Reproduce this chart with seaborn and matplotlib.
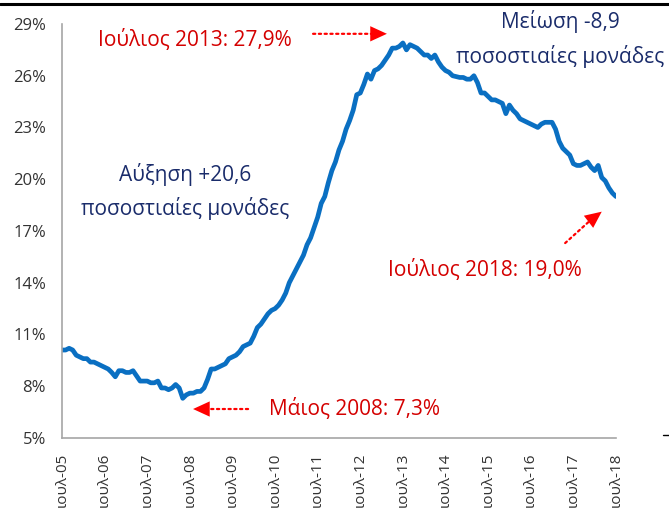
import numpy as np
import pandas as pd
import matplotlib.pyplot as plt
import seaborn as sns
from matplotlib.lines import Line2D

# ==========================================
# Datos: tasa de desempleo mensual, jul-2005 .. jul-2018
# ==========================================
anios = [f"{a:02d}" for a in range(5, 19)]
etiquetas_x = [f"ιουλ-{a}" for a in anios]

desempleo = [
    # jul05 - jun06
    10.1, 10.1, 10.2, 10.1, 9.8, 9.7, 9.6, 9.6, 9.4, 9.4, 9.3, 9.2,
    # jul06 - jun07
    9.1, 9.0, 8.8, 8.55, 8.9, 8.9, 8.8, 8.8, 8.9, 8.6, 8.3, 8.3,
    # jul07 - jun08
    8.3, 8.2, 8.2, 8.3, 7.9, 7.9, 7.8, 7.9, 8.1, 7.9, 7.3, 7.5,
    # jul08 - jun09
    7.6, 7.6, 7.7, 7.7, 7.9, 8.4, 9.0, 9.0, 9.1, 9.2, 9.3, 9.6,
    # jul09 - jun10
    9.7, 9.8, 10.0, 10.3, 10.4, 10.5, 10.9, 11.4, 11.6, 11.9, 12.2, 12.4,
    # jul10 - jun11
    12.5, 12.7, 13.0, 13.4, 14.0, 14.4, 14.8, 15.2, 15.6, 16.2, 16.6, 17.2,
    # jul11 - jun12
    17.8, 18.6, 19.0, 19.8, 20.5, 21.0, 21.7, 22.2, 22.9, 23.4, 24.0, 24.9,
    # jul12 - jun13
    25.0, 25.5, 26.1, 25.8, 26.3, 26.4, 26.6, 26.9, 27.2, 27.6, 27.6, 27.7,
    # jul13 - jun14
    27.9, 27.5, 27.8, 27.7, 27.6, 27.4, 27.2, 27.2, 27.0, 27.2, 26.8, 26.5,
    # jul14 - jun15
    26.3, 26.2, 26.0, 25.95, 25.9, 25.9, 25.8, 25.8, 26.0, 25.6, 25.0, 25.0,
    # jul15 - jun16
    24.8, 24.6, 24.6, 24.5, 24.4, 23.8, 24.3, 24.0, 23.8, 23.5, 23.4, 23.3,
    # jul16 - jun17
    23.2, 23.1, 23.0, 23.2, 23.3, 23.3, 23.3, 22.9, 22.2, 21.8, 21.6, 21.4,
    # jul17 - jul18
    20.9, 20.8, 20.8, 20.9, 21.0, 20.7, 20.5, 20.8, 20.1, 19.9, 19.5, 19.2, 19.0,
]
meses = np.arange(len(desempleo))
ticks_y = [5, 8, 11, 14, 17, 20, 23, 26, 29]

df = pd.DataFrame({"mes": meses, "tasa": desempleo})

# ==========================================
# Estilo
# ==========================================
sns.set_theme(style="white")
plt.rcParams['font.family'] = ['Open Sans', 'DejaVu Sans']

ROJO = '#d40000'
ROJO_FLECHA = '#ff0000'
AZUL_OSC = '#1a2c6b'
AZUL_LINEA = '#0a6fc2'
GRIS = '#a6a6a6'

fig = plt.figure(figsize=(6.69, 5.08), dpi=100)
ax = fig.add_axes([0.0927, 0.1378, 0.9207 - 0.0927, 0.9528 - 0.1378])

sns.lineplot(data=df, x="mes", y="tasa", ax=ax, color=AZUL_LINEA, linewidth=3.4)

ax.set_xlim(0, len(desempleo) - 1)
ax.set_ylim(5, 29)
ax.set_xticks(np.arange(0, len(desempleo), 12))
ax.set_xticklabels(etiquetas_x, rotation=90, fontsize=11)
ax.set_yticks(ticks_y)
ax.set_yticklabels([f"{v}%" for v in ticks_y], fontsize=12)
ax.set_xlabel("")
ax.set_ylabel("")

for lado in ['top', 'right']:
    ax.spines[lado].set_visible(False)
for lado in ['left', 'bottom']:
    ax.spines[lado].set_color(GRIS)
    ax.spines[lado].set_linewidth(1.2)
ax.tick_params(axis='both', direction='out', length=4, width=1.0, color=GRIS,
               labelcolor='#333333')
ax.tick_params(axis='y', pad=7.5)
ax.tick_params(axis='x', pad=6.5)

# ==========================================
# Anotaciones
# ==========================================
kw_txt = dict(ha='center', va='center', fontsize=15, clip_on=False)
ax.text(37.5, 28.07, "Ιούλιος 2013: 27,9%", color=ROJO, **kw_txt)
ax.text(140.3, 29.12, "Μείωση -8,9", color=AZUL_OSC, **kw_txt)
ax.text(140.3, 27.14, "ποσοστιαίες μονάδες", color=AZUL_OSC, **kw_txt)
ax.text(34.6, 20.3, "Αύξηση +20,6", color=AZUL_OSC, **kw_txt)
ax.text(34.6, 18.33, "ποσοστιαίες μονάδες", color=AZUL_OSC, **kw_txt)
ax.text(119.2, 14.74, "Ιούλιος 2018: 19,0%", color=ROJO, **kw_txt)
ax.text(82.5, 6.68, "Μάιος 2008: 7,3%", color=ROJO, **kw_txt)

# flechas: trazo punteado + punta sólida
trazo = dict(arrowstyle='-', color=ROJO_FLECHA, linestyle=(0, (1, 1.6)),
             linewidth=1.6, shrinkA=0, shrinkB=0)
punta = dict(arrowstyle='-|>,head_length=1.2,head_width=0.55', mutation_scale=10,
             color=ROJO_FLECHA, linewidth=0, shrinkA=0, shrinkB=0)
flechas = [
    # (cola, base de la punta, punta)
    ((70.7, 28.43), (87.6, 28.43), (91.5, 28.43)),
    ((52.4, 6.68), (41.7, 6.68), (36.9, 6.68)),
    ((141.7, 16.30), (148.7, 17.6), (152.0, 18.12)),
]
for cola, base, tip in flechas:
    ax.annotate("", xy=base, xytext=cola, arrowprops=trazo, annotation_clip=False)
    ax.annotate("", xy=tip, xytext=base, arrowprops=punta, annotation_clip=False)

# Línea superior y marca suelta a la derecha
fig.add_artist(Line2D([0, 1], [0.992, 0.992], transform=fig.transFigure,
                      color='black', linewidth=2.2))
fig.add_artist(Line2D([0.991, 1.0], [0.1437, 0.1437], transform=fig.transFigure,
                      color='black', linewidth=1.0))

plt.savefig("out.png", dpi=100)
